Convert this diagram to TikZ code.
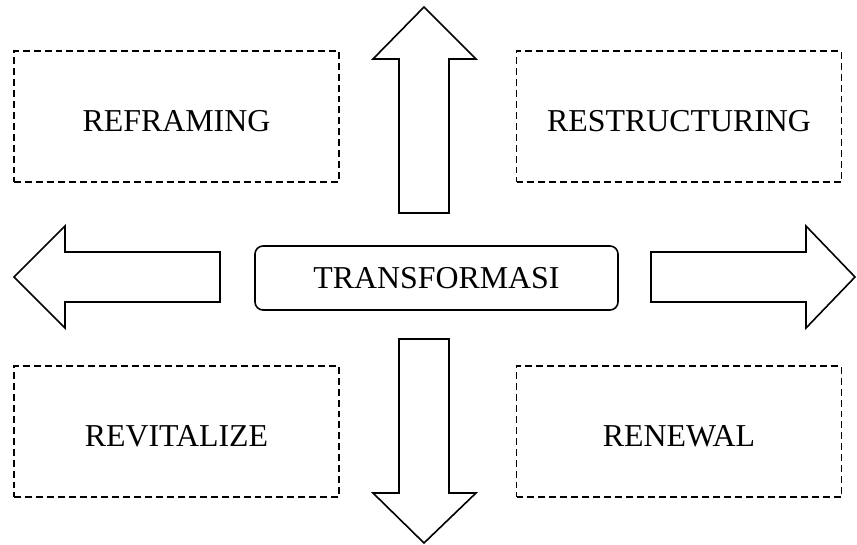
\documentclass[tikz,border=0pt]{standalone}
\usepackage{fontspec}
\setmainfont{Liberation Serif}
\begin{document}
\begin{tikzpicture}[x=0.75pt,y=-0.75pt,
  dbox/.style={draw=black,line width=1.4pt,dash pattern=on 5.2pt off 3pt,minimum width=243.75pt,minimum height=98.25pt,inner sep=0pt},
  lbl/.style={font=\fontsize{23.9pt}{28pt}\selectfont,anchor=base,inner sep=0pt},
  cbox/.style={draw=black,line width=1.2pt,rounded corners=6pt,minimum width=272.25pt,minimum height=48pt,inner sep=0pt,font=\fontsize{23.9pt}{28pt}\selectfont},
  bigarrow/.style={draw=black,line width=1.2pt,line join=miter,fill=white}]
\useasboundingbox (0,0) rectangle (857,545);
% dashed boxes
\node[dbox] (reframing) at (176.5,116.5) {};
\node[dbox] (restructuring) at (679,116.5) {};
\node[dbox] (revitalize) at (176.5,431.5) {};
\node[dbox] (renewal) at (679,431.5) {};
\node[lbl] (reframingt) at ([yshift=-11.6pt]reframing.center) {REFRAMING};
\node[lbl] (restructuringt) at ([yshift=-11.6pt]restructuring.center) {RESTRUCTURING};
\node[lbl] (revitalizet) at ([yshift=-11.6pt]revitalize.center) {REVITALIZE};
\node[lbl] (renewalt) at ([yshift=-11.6pt]renewal.center) {RENEWAL};
% centre
\node[cbox] (transformasi) at (436.5,278) {TRANSFORMASI};
% arrows
\draw[bigarrow] (399,213) -- (399,59) -- (373,59) -- (424,7) -- (476,59) -- (449,59) -- (449,213) -- cycle;
\draw[bigarrow] (399,339) -- (399,493) -- (373,493) -- (424,543) -- (476,493) -- (449,493) -- (449,339) -- cycle;
\draw[bigarrow] (220,252) -- (65,252) -- (65,226) -- (14,277) -- (65,328) -- (65,302) -- (220,302) -- cycle;
\draw[bigarrow] (651,252) -- (806,252) -- (806,226) -- (855,277) -- (806,328) -- (806,302) -- (651,302) -- cycle;
\end{tikzpicture}
\end{document}
